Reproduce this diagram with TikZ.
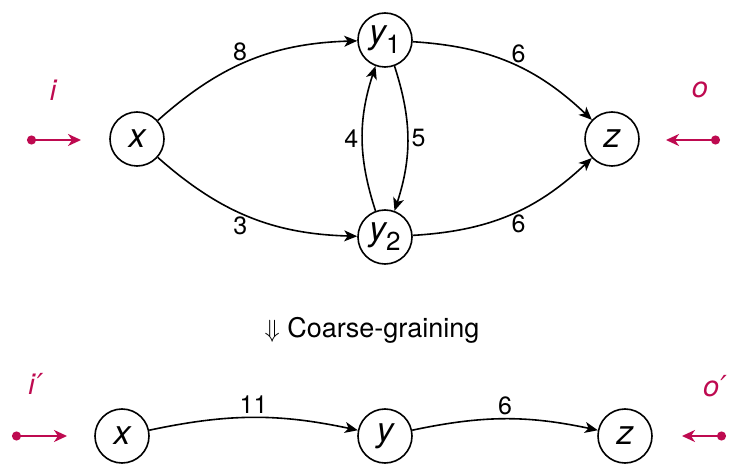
\documentclass[tikz,border=0pt]{standalone}
\usepackage{fontspec}
\setmainfont{TeX Gyre Heros}
\newfontfamily\djv{DejaVu Sans}
\usetikzlibrary{arrows.meta}
\definecolor{crim}{RGB}{190,10,80}
\begin{document}
\begin{tikzpicture}[x=1pt,y=-1pt,
  st/.style={circle,draw,line width=1.6pt,minimum size=54pt,inner sep=0pt,font=\fontsize{34}{36}\selectfont\itshape},
  ed/.style={-{Stealth[length=13pt,width=11pt,inset=3.5pt]},line width=1.6pt},
  io/.style={crim,line width=2.2pt,{Circle[length=9pt]}-{Stealth[length=13pt,width=12pt,inset=4pt]}},
  lab/.style={font=\fontsize{25}{27}\selectfont},
  iol/.style={crim,font=\fontsize{29}{31}\selectfont\itshape}]
\useasboundingbox (0,0) rectangle (737,465);
\node[st] (x) at (137,139) {x};
\node[st] (y1) at (385,40) {y\textsubscript{\upshape\fontsize{26}{28}\selectfont 1}};
\node[st] (y2) at (385,237) {y\textsubscript{\upshape\fontsize{26}{28}\selectfont 2}};
\node[st] (z) at (612,139) {z};
\draw[ed] (x) to[bend left=20] node[lab,above,pos=0.45] {8} (y1);
\draw[ed] (x) to[bend right=20] node[lab,below,pos=0.45] {3} (y2);
\draw[ed] (y1) to[bend left=20] node[lab,above,pos=0.55] {6} (z);
\draw[ed] (y2) to[bend right=20] node[lab,below,pos=0.55] {6} (z);
\draw[ed] (y1.-70) to[bend left=18] node[lab,right] {5} (y2.70);
\draw[ed] (y2.110) to[bend left=18] node[lab,left] {4} (y1.-110);
\coordinate (ia) at (27,140); \coordinate (ib) at (81,140);
\coordinate (oa) at (720,140); \coordinate (ob) at (666,140);
\draw[io] (ia) -- (ib);
\draw[io] (oa) -- (ob);
\node[iol] (il) at (53,90) {i};
\node[iol] (ol) at (700,90) {o};
\node[font=\fontsize{27}{29}\selectfont] (cg) at (372,330) {$\Downarrow$ Coarse-graining};
\node[st] (bx) at (122,436) {x};
\node[st] (by) at (385,436) {y};
\node[st] (bz) at (625,436) {z};
\draw[ed] (bx) to[bend left=12] node[lab,above] {11} (by);
\draw[ed] (by) to[bend left=12] node[lab,above] {6} (bz);
\coordinate (ja) at (12,436); \coordinate (jb) at (67,436);
\coordinate (pa) at (726,436); \coordinate (pb) at (682,436);
\draw[io] (ja) -- (jb);
\draw[io] (pa) -- (pb);
\node[iol] (jl) at (36,384) {i\kern2pt{\djv\itshape ′}};
\node[iol] (pl) at (715,386) {o\kern1pt{\djv\itshape ′}};
\end{tikzpicture}
\end{document}
